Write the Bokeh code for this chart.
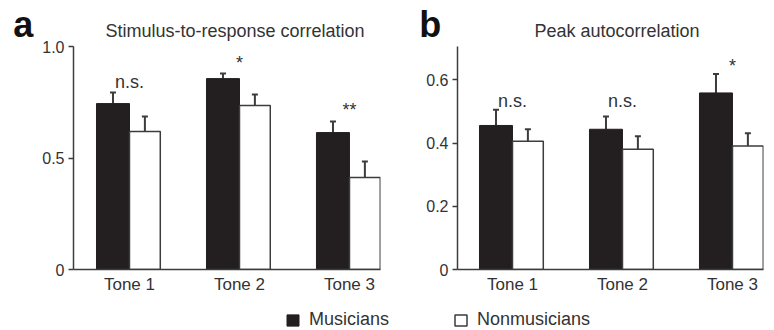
from bokeh.plotting import figure
from bokeh.models import (ColumnDataSource, FixedTicker, Whisker, TeeHead,
                          Legend, LegendItem, Range1d)
from bokeh.layouts import column, row
from bokeh.transform import dodge
from bokeh.embed import file_html
from bokeh.resources import INLINE
from bokeh.core.properties import value

# ---------------- data ----------------
tones = ["Tone 1", "Tone 2", "Tone 3"]
groups = ["Musicians", "Nonmusicians"]

a_title = "Stimulus-to-response correlation"
a_musicians = [0.744, 0.856, 0.614]
a_musicians_err = [0.794, 0.879, 0.664]
a_nonmusicians = [0.619, 0.735, 0.413]
a_nonmusicians_err = [0.686, 0.785, 0.484]
a_sig = ["n.s.", "*", "**"]
a_sig_y = [0.818, 0.904, 0.693]
a_yticks = [0, 0.5, 1.0]
a_ytick_labels = ["0", "0.5", "1.0"]

b_title = "Peak autocorrelation"
b_musicians = [0.456, 0.444, 0.559]
b_musicians_err = [0.506, 0.484, 0.619]
b_nonmusicians = [0.406, 0.381, 0.391]
b_nonmusicians_err = [0.444, 0.422, 0.431]
b_sig = ["n.s.", "n.s.", "*"]
b_sig_y = [0.519, 0.519, 0.627]
b_yticks = [0, 0.2, 0.4, 0.6]
b_ytick_labels = ["0", "0.2", "0.4", "0.6"]

# ---------------- style ----------------
FONT = "Liberation Sans"
BLACK = "#231f20"
LINE = "#3c3c3c"
TEXT = "#333333"


def panel(title, letter, mus, mus_err, non, non_err, sig, sig_y, yticks, ylabels,
          ymax, x_start, x_end, left, right, top, title_offset, letter_standoff):
    p = figure(width=387, height=300, x_range=Range1d(x_start, x_end),
               y_range=Range1d(0, ymax), output_backend="svg", toolbar_location=None,
               min_border_left=left, min_border_right=right, min_border_top=top,
               min_border_bottom=31)
    p.outline_line_color = None
    p.grid.visible = False
    p.background_fill_color = "white"
    p.border_fill_color = "white"

    src = ColumnDataSource(dict(x=list(range(len(tones))), mus=mus, mus_err=mus_err,
                                non=non, non_err=non_err, sig=sig, sig_y=sig_y))

    p.vbar(x=dodge("x", -0.15, range=p.x_range), top="mus", width=0.30, source=src,
           fill_color=BLACK, line_color=BLACK)
    p.vbar(x=dodge("x", 0.14, range=p.x_range), top="non", width=0.28, source=src,
           fill_color="white", line_color=LINE, line_width=1.5)

    for base, lo, hi in ((dodge("x", -0.15, range=p.x_range), "mus", "mus_err"),
                         (dodge("x", 0.14, range=p.x_range), "non", "non_err")):
        w = Whisker(source=src, base=base, lower=lo, upper=hi, dimension="height",
                    line_color=LINE, line_width=2,
                    upper_head=TeeHead(size=6, line_color=LINE, line_width=2),
                    lower_head=None)
        p.add_layout(w)

    p.text(x="x", y="sig_y", text="sig", source=src, text_align="center",
           text_baseline="alphabetic", y_offset=-5, text_font=value(FONT),
           text_font_size="18px", text_color=TEXT)

    # title
    p.title.text = title
    p.title.align = "left"
    p.title.offset = title_offset
    p.title.text_font = FONT
    p.title.text_font_size = "18px"
    p.title.text_font_style = "normal"
    p.title.text_color = TEXT
    p.title.standoff = 11

    # axes
    p.yaxis.ticker = FixedTicker(ticks=yticks)
    p.yaxis.major_label_overrides = {t: l for t, l in zip(yticks, ylabels)}
    p.yaxis.minor_tick_line_color = None
    p.yaxis.major_tick_out = 5
    p.yaxis.major_tick_in = 0
    p.yaxis.major_label_standoff = 4
    p.xaxis.ticker = FixedTicker(ticks=list(range(len(tones))))
    p.xaxis.major_label_overrides = {i: t for i, t in enumerate(tones)}
    p.xaxis.minor_tick_line_color = None
    p.xaxis.major_tick_out = 0
    p.xaxis.major_tick_in = 0
    p.xaxis.major_label_standoff = 5
    for ax in (p.xaxis, p.yaxis):
        ax.axis_line_color = LINE
        ax.axis_line_width = 1.5
        ax.major_tick_line_color = LINE
        ax.major_tick_line_width = 1.5
        ax.major_label_text_font = FONT
        ax.major_label_text_color = TEXT
    p.yaxis.major_label_text_font_size = "16px"
    p.xaxis.major_label_text_font_size = "17px"
    p.xaxis.major_tick_line_color = None

    # panel letter as a horizontal y-axis label aligned to the top of the axis;
    # the trailing empty line lifts the letter above the axis end
    yax = p.yaxis[0]
    yax.axis_label = letter + "\n"
    yax.axis_label_text_font = FONT
    yax.axis_label_text_font_size = "36px"
    yax.axis_label_text_font_style = "bold"
    yax.axis_label_text_color = "#111111"
    yax.axis_label_text_line_height = 1.05
    yax.axis_label_standoff = letter_standoff
    props = yax.properties()
    if "axis_label_orientation" in props:
        yax.axis_label_orientation = "horizontal"
    if "axis_label_align" in props:
        yax.axis_label_align = "end"
    return p


pa = panel(a_title, "a", a_musicians, a_musicians_err, a_nonmusicians, a_nonmusicians_err,
           a_sig, a_sig_y, a_yticks, a_ytick_labels, ymax=1.0, x_start=-0.509, x_end=2.282,
           left=73, right=7, top=46, title_offset=32, letter_standoff=6)
pb = panel(b_title, "b", b_musicians, b_musicians_err, b_nonmusicians, b_nonmusicians_err,
           b_sig, b_sig_y, b_yticks, b_ytick_labels, ymax=0.706, x_start=-0.5, x_end=2.282,
           left=70, right=11, top=43, title_offset=77, letter_standoff=-18)

# legend strip (swatch renderers are hidden; only their legend glyphs are drawn)
pl = figure(width=774, height=30, x_range=Range1d(0, 1), y_range=Range1d(0, 1),
            output_backend="svg", toolbar_location=None, min_border=0)
pl.axis.visible = False
pl.grid.visible = False
pl.outline_line_color = None
r1 = pl.vbar(x=[0.5], top=[0.5], width=0.01, fill_color=BLACK, line_color=BLACK)
r2 = pl.vbar(x=[0.5], top=[0.5], width=0.01, fill_color="white",
             line_color=LINE, line_width=1.5)
r1.visible = False
r2.visible = False
leg = Legend(items=[LegendItem(label=groups[0], renderers=[r1]),
                    LegendItem(label=groups[1], renderers=[r2])],
             orientation="horizontal", location=(285, 0), border_line_color=None,
             background_fill_alpha=0, padding=0, margin=0, spacing=64,
             glyph_width=15, glyph_height=14, label_standoff=9, click_policy="none",
             label_text_font=FONT, label_text_font_size="18px", label_text_color=TEXT)
pl.add_layout(leg)

layout = column(row(pa, pb), pl)
open("out.html", "w").write(file_html(layout, INLINE))
